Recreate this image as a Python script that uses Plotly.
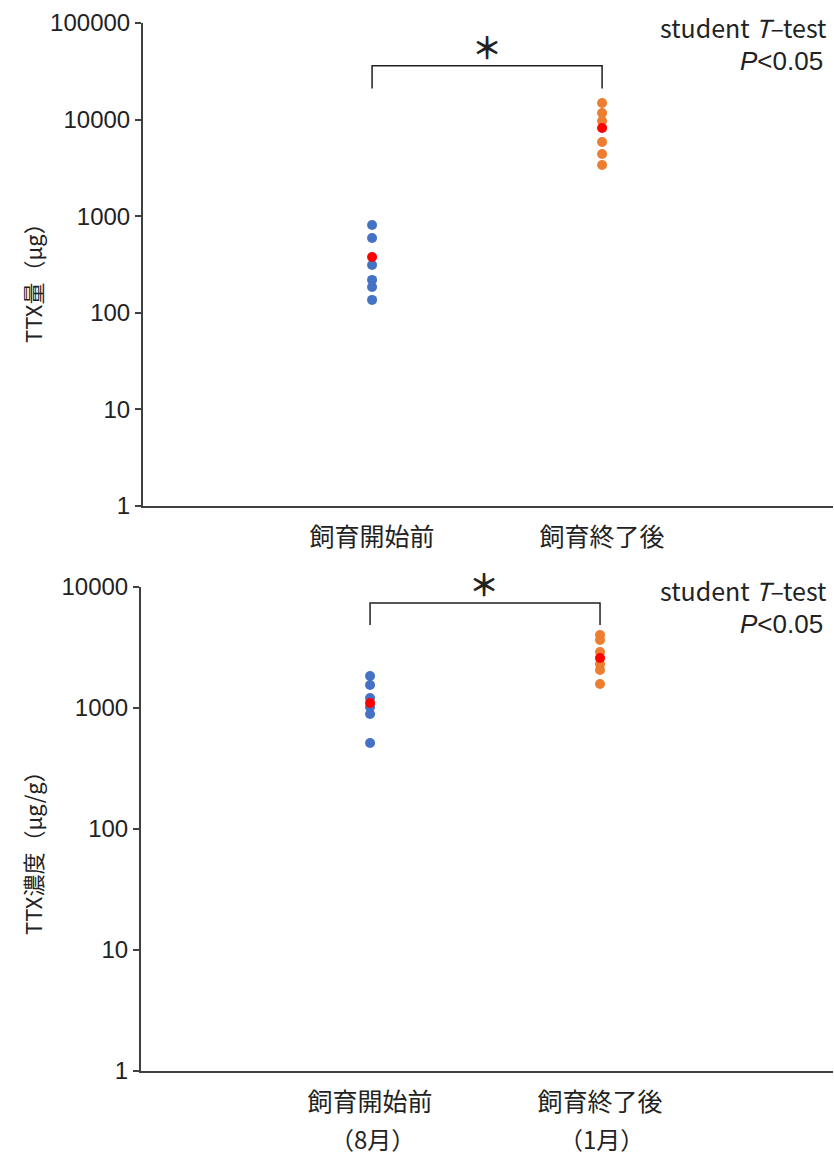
import plotly.graph_objects as go

W, H = 834, 1157

# ---------------- data ----------------
categories = ["飼育開始前", "飼育終了後"]
months = ["（8月）", "（1月）"]

# Panel 1: TTX amount (µg)
amount_before = [811, 595, 312, 219, 185, 136]
amount_after = [14860, 11700, 9680, 5870, 4400, 3390]
amount_mean = [378, 8190]

# Panel 2: TTX concentration (µg/g)
conc_before = [1837, 1549, 1210, 1019, 892, 514]
conc_after = [4010, 3650, 2900, 2310, 2060, 1580]
conc_mean = [1100, 2590]

# significance bracket (y levels: foot, top)
bracket1 = [21000, 36000]
bracket2 = [4850, 7380]

y1_ticks = [1, 10, 100, 1000, 10000, 100000]
y2_ticks = [1, 10, 100, 1000, 10000]

BLUE = "#4472C4"
ORANGE = "#ED7D31"
RED = "#FF0000"
AXIS = "#404040"
JP = "Noto Sans CJK JP"
LAT = "Liberation Sans, Arial"

def px_x(p):
    return p / W

def px_y(p):
    return 1 - p / H

fig = go.Figure()

def add_panel(xa, ya, before, after, mean, bracket):
    mk = dict(size=10, line=dict(width=0))
    fig.add_trace(go.Scatter(x=[0] * len(before), y=before, mode="markers",
                             marker=dict(color=BLUE, **mk), xaxis=xa, yaxis=ya,
                             showlegend=False, hoverinfo="y"))
    fig.add_trace(go.Scatter(x=[1] * len(after), y=after, mode="markers",
                             marker=dict(color=ORANGE, **mk), xaxis=xa, yaxis=ya,
                             showlegend=False, hoverinfo="y"))
    fig.add_trace(go.Scatter(x=[0, 1], y=mean, mode="markers",
                             marker=dict(color=RED, **mk), xaxis=xa, yaxis=ya,
                             showlegend=False, hoverinfo="y"))
    fig.add_trace(go.Scatter(x=[0, 0, 1, 1],
                             y=[bracket[0], bracket[1], bracket[1], bracket[0]],
                             mode="lines", line=dict(color="#202020", width=1.5),
                             xaxis=xa, yaxis=ya, showlegend=False, hoverinfo="skip"))

add_panel("x", "y", amount_before, amount_after, amount_mean, bracket1)
add_panel("x2", "y2", conc_before, conc_after, conc_mean, bracket2)

xcommon = dict(tickmode="array", tickvals=[0, 1], ticktext=categories,
               showline=True, linecolor=AXIS, linewidth=2,
               ticks="outside", ticklen=8, tickcolor="rgba(0,0,0,0)",
               showgrid=False, zeroline=False, automargin=False,
               tickfont=dict(family=JP, size=25, color="#222"))
ycommon = dict(type="log", showline=True, linecolor=AXIS, linewidth=2,
               ticks="outside", ticklen=6, tickcolor=AXIS, tickwidth=1.5,
               showgrid=False, zeroline=False, automargin=False,
               tickfont=dict(family=LAT, size=24, color="#222"))

fig.update_layout(
    width=W, height=H,
    margin=dict(l=0, r=0, t=0, b=0),
    paper_bgcolor="white", plot_bgcolor="white",
    xaxis=dict(domain=[px_x(143), px_x(833)], range=[-0.996, 2.004], anchor="y", **xcommon),
    yaxis=dict(domain=[px_y(506), px_y(23)], range=[0, 5], anchor="x",
               tickvals=y1_ticks, ticktext=[str(v) for v in y1_ticks], **ycommon),
    xaxis2=dict(domain=[px_x(141), px_x(833)], range=[-0.996, 2.013], anchor="y2", **xcommon),
    yaxis2=dict(domain=[px_y(1071), px_y(587)], range=[0, 4], anchor="x2",
                tickvals=y2_ticks, ticktext=[str(v) for v in y2_ticks], **ycommon),
)

ann = []
def txt(x, y, s, size, family=JP, xanchor="center", angle=0):
    ann.append(dict(x=px_x(x), y=px_y(y), xref="paper", yref="paper", text=s,
                    showarrow=False, xanchor=xanchor, yanchor="middle",
                    textangle=angle, font=dict(family=family, size=size, color="#222")))

# y axis titles
txt(32, 278, "TTX量（μg）", 22, angle=-90)
txt(32, 848, "TTX濃度（μg/g）", 22, angle=-90)
# test annotations
for y0 in (27, 590):
    txt(829, y0, "student <i>T</i>–test", 25, xanchor="right")
    txt(825, y0 + 34, "<i>P</i>&lt;0.05", 26, family=LAT, xanchor="right")
# asterisks
txt(487, 46, "<b>＊</b>", 30)
txt(484, 583, "<b>＊</b>", 30)
# month labels under bottom categories
txt(372, 1138, months[0], 24)
txt(601, 1138, months[1], 24)

fig.update_layout(annotations=ann)
fig.write_html("out.html")
